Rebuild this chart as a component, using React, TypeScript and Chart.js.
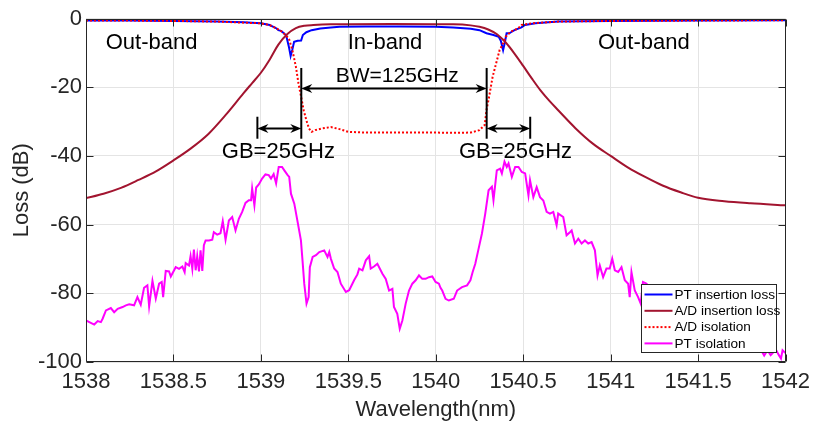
import React, { useEffect, useRef } from "react";
import { Chart, registerables } from "chart.js";

Chart.register(...registerables);

const FONT = "'Liberation Sans', Arial, Helvetica, sans-serif";
const AXIS_COLOR = "#262626";

// ---- axes ----
const xTicks = [1538, 1538.5, 1539, 1539.5, 1540, 1540.5, 1541, 1541.5, 1542];
const yTicks = [-100, -80, -60, -40, -20, 0];
const xTitle = "Wavelength(nm)";
const yTitle = "Loss (dB)";

// ---- series labels / colors ----
const seriesLabels = ["PT insertion loss", "A/D insertion loss", "A/D isolation", "PT isolation"];

// ---- PT insertion loss (blue) ----
const ptInsWl = [
  1538.0, 1538.25, 1538.5, 1538.75, 1538.9, 1539.0, 1539.05, 1539.09, 1539.1, 1539.115,
  1539.13, 1539.145, 1539.16, 1539.17, 1539.18, 1539.19, 1539.21, 1539.23, 1539.24, 1539.26,
  1539.29, 1539.34, 1539.4, 1539.45, 1539.6, 1539.8, 1540.0, 1540.1, 1540.2, 1540.25,
  1540.29, 1540.33, 1540.36, 1540.372, 1540.385, 1540.395, 1540.405, 1540.42, 1540.43, 1540.45,
  1540.49, 1540.51, 1540.57, 1540.7, 1541.0, 1541.5, 1542.0,
];
const ptInsLoss = [
  -0.6, -0.6, -0.7, -0.9, -1.1, -1.4, -1.9, -2.9, -3.4, -3.6,
  -4.2, -5.0, -8.2, -10.9, -9.0, -6.8, -6.5, -6.4, -4.8, -4.0,
  -3.4, -2.9, -2.6, -2.4, -2.3, -2.3, -2.4, -2.6, -3.0, -3.4,
  -4.3, -4.8, -5.3, -6.5, -9.2, -7.0, -4.3, -4.3, -4.0, -3.4,
  -2.6, -1.9, -1.4, -0.9, -0.7, -0.6, -0.5,
];

// ---- A/D insertion loss (dark red) ----
const adInsWl = [
  1538.0, 1538.1, 1538.2, 1538.3, 1538.4, 1538.5, 1538.6, 1538.7, 1538.8, 1538.9,
  1538.95, 1539.0, 1539.05, 1539.1, 1539.15, 1539.2, 1539.25, 1539.3, 1539.4, 1539.75,
  1540.1, 1540.2, 1540.25, 1540.3, 1540.35, 1540.4, 1540.45, 1540.5, 1540.55, 1540.6,
  1540.65, 1540.7, 1540.8, 1540.9, 1541.0, 1541.1, 1541.2, 1541.3, 1541.4, 1541.5,
  1541.65, 1541.8, 1542.0,
];
const adInsLoss = [
  -52.3, -51.0, -49.3, -47.0, -44.5, -41.3, -37.8, -33.6, -28.0, -21.8,
  -18.8, -15.8, -12.0, -7.6, -4.6, -2.8, -2.1, -1.9, -1.7, -1.6,
  -1.7, -2.0, -2.4, -3.2, -4.6, -7.0, -10.2, -13.8, -17.5, -21.0,
  -24.0, -26.7, -32.0, -36.5, -40.0, -43.4, -46.2, -48.7, -50.6, -52.2,
  -53.2, -53.8, -54.4,
];

// ---- A/D isolation (red dotted) ----
const adIsoWl = [
  1538.0, 1538.25, 1538.5, 1538.75, 1539.0, 1539.05, 1539.09, 1539.12, 1539.16, 1539.18,
  1539.2, 1539.215, 1539.23, 1539.245, 1539.26, 1539.275, 1539.29, 1539.31, 1539.35, 1539.4,
  1539.45, 1539.5, 1539.6, 1539.8, 1540.0, 1540.1, 1540.2, 1540.25, 1540.28, 1540.29,
  1540.305, 1540.325, 1540.345, 1540.365, 1540.385, 1540.4, 1540.43, 1540.47, 1540.49, 1540.55,
  1540.7, 1541.0, 1541.5, 1542.0,
];
const adIsoLoss = [
  -0.6, -0.6, -0.7, -0.9, -1.4, -1.9, -2.9, -3.8, -5.8, -9.2,
  -14.0, -18.9, -22.8, -26.7, -29.6, -32.0, -33.0, -32.5, -32.0, -31.6,
  -32.2, -33.0, -33.2, -33.2, -33.2, -33.3, -33.2, -32.5, -31.0, -26.7,
  -22.8, -17.0, -13.1, -9.2, -7.2, -5.3, -3.8, -2.9, -1.9, -1.4,
  -0.9, -0.7, -0.6, -0.5,
];

// ---- PT isolation (magenta) ----
const ptIsoWl = [
  1538.0, 1538.019, 1538.047, 1538.067, 1538.085, 1538.095, 1538.114, 1538.142, 1538.161, 1538.181,
  1538.209, 1538.228, 1538.247, 1538.275, 1538.294, 1538.313, 1538.332, 1538.351, 1538.361, 1538.38,
  1538.399, 1538.418, 1538.433, 1538.441, 1538.456, 1538.475, 1538.485, 1538.513, 1538.532, 1538.551,
  1538.564, 1538.57, 1538.589, 1538.598, 1538.608, 1538.617, 1538.627, 1538.636, 1538.646, 1538.655,
  1538.665, 1538.674, 1538.684, 1538.703, 1538.722, 1538.731, 1538.75, 1538.769, 1538.782, 1538.798,
  1538.817, 1538.836, 1538.855, 1538.874, 1538.893, 1538.912, 1538.931, 1538.944, 1538.95, 1538.963,
  1538.973, 1538.988, 1539.007, 1539.026, 1539.045, 1539.058, 1539.073, 1539.087, 1539.102, 1539.121,
  1539.134, 1539.153, 1539.162, 1539.172, 1539.191, 1539.21, 1539.229, 1539.238, 1539.248, 1539.261,
  1539.273, 1539.28, 1539.296, 1539.315, 1539.334, 1539.362, 1539.381, 1539.391, 1539.4, 1539.419,
  1539.438, 1539.457, 1539.486, 1539.505, 1539.533, 1539.552, 1539.562, 1539.581, 1539.6, 1539.619,
  1539.628, 1539.647, 1539.666, 1539.695, 1539.714, 1539.733, 1539.752, 1539.761, 1539.78, 1539.794,
  1539.809, 1539.828, 1539.847, 1539.866, 1539.885, 1539.904, 1539.923, 1539.942, 1539.961, 1539.98,
  1539.999, 1540.018, 1540.027, 1540.037, 1540.056, 1540.075, 1540.103, 1540.122, 1540.15, 1540.179,
  1540.198, 1540.211, 1540.226, 1540.245, 1540.264, 1540.283, 1540.302, 1540.321, 1540.33, 1540.349,
  1540.368, 1540.378, 1540.393, 1540.406, 1540.416, 1540.435, 1540.454, 1540.473, 1540.492, 1540.511,
  1540.53, 1540.539, 1540.558, 1540.577, 1540.596, 1540.615, 1540.634, 1540.653, 1540.672, 1540.691,
  1540.7, 1540.729, 1540.748, 1540.767, 1540.777, 1540.796, 1540.815, 1540.834, 1540.853, 1540.872,
  1540.891, 1540.91, 1540.925, 1540.938, 1540.957, 1540.976, 1540.995, 1541.009, 1541.024, 1541.043,
  1541.062, 1541.081, 1541.1, 1541.109, 1541.119, 1541.138, 1541.157, 1541.172, 1541.185, 1541.204,
  1541.214, 1541.228, 1541.3, 1541.4, 1541.5, 1541.6, 1541.7, 1541.8, 1541.86, 1541.878,
  1541.897, 1541.915, 1541.945, 1541.962, 1541.974, 1541.983, 1542.0,
];
const ptIsoLoss = [
  -87.9, -88.4, -89.1, -88.1, -88.4, -87.4, -85.0, -84.3, -85.5, -84.5,
  -84.0, -83.5, -83.2, -83.5, -81.1, -83.3, -78.4, -77.7, -83.8, -76.4,
  -81.5, -77.2, -76.7, -81.1, -73.5, -73.6, -75.1, -72.4, -72.9, -72.2,
  -73.8, -71.2, -71.9, -69.2, -72.9, -67.3, -73.3, -69.2, -73.6, -67.5,
  -73.5, -66.0, -64.6, -64.6, -64.4, -62.2, -62.9, -62.5, -59.0, -64.4,
  -58.8, -57.8, -61.7, -58.3, -56.3, -53.7, -52.9, -52.9, -49.5, -54.4,
  -49.2, -48.3, -46.6, -45.4, -45.6, -46.6, -45.3, -48.0, -43.2, -43.2,
  -44.2, -45.6, -46.1, -51.0, -53.9, -59.2, -64.6, -70.4, -77.2, -83.0,
  -81.1, -72.4, -69.4, -68.9, -68.0, -67.5, -69.4, -68.0, -69.9, -72.8,
  -73.8, -77.2, -79.6, -79.1, -76.2, -74.5, -72.8, -73.3, -70.4, -69.2,
  -72.8, -72.2, -71.4, -74.3, -75.8, -79.2, -78.7, -84.0, -86.0, -90.3,
  -87.9, -83.0, -79.2, -77.2, -76.2, -74.8, -75.8, -75.8, -75.3, -75.1,
  -76.7, -77.2, -78.4, -79.2, -81.6, -82.1, -81.6, -79.2, -78.2, -77.7,
  -76.2, -73.8, -71.4, -67.0, -62.6, -56.8, -50.0, -49.0, -52.9, -44.2,
  -43.7, -45.1, -41.7, -43.2, -42.2, -46.1, -43.2, -43.2, -44.7, -45.1,
  -51.5, -47.1, -52.0, -49.1, -52.0, -53.0, -56.3, -56.8, -56.3, -60.2,
  -56.8, -57.8, -63.1, -62.2, -61.7, -65.5, -64.1, -65.5, -64.6, -65.5,
  -65.1, -67.5, -74.8, -71.9, -75.3, -72.8, -72.8, -69.9, -73.3, -73.8,
  -72.4, -76.2, -77.2, -81.1, -73.8, -79.2, -81.1, -83.0, -76.7, -77.2,
  -77.7, -82.5, -80.0, -84.0, -88.0, -90.0, -93.0, -95.0, -96.5, -98.1,
  -96.6, -98.0, -96.4, -98.0, -99.0, -96.6, -97.4,
];

// ---- annotation values (data units) ----
const bwEdges = [1539.231, 1540.291]; // BW=125GHz arrow ends
const gbOuter = [1538.98, 1540.54]; // GB=25GHz outer edges
const bwArrowLoss = -20.35;
const bwBarTop = -14.4;
const barBottom = -35.0;
const gbArrowLoss = -32.0;
const gbBarTop = -28.6;
const bwText = { text: "BW=125GHz", wl: 1539.78, loss: -16.9 };
const gbTexts = [
  { text: "GB=25GHz", wl: 1539.1, loss: -38.8 },
  { text: "GB=25GHz", wl: 1540.456, loss: -38.8 },
];
const bandTexts = [
  { text: "Out-band", wl: 1538.375, loss: -7.2 },
  { text: "In-band", wl: 1539.71, loss: -7.2 },
  { text: "Out-band", wl: 1541.19, loss: -7.2 },
];

function toPoints(xs: number[], ys: number[]) {
  return xs.map((x, i) => ({ x, y: ys[i] }));
}

const overlayPlugin = {
  id: "overlay",
  afterDraw(chart: any) {
    const ctx: CanvasRenderingContext2D = chart.ctx;
    const { left, right, top, bottom } = chart.chartArea;
    const xs = chart.scales.x;
    const ys = chart.scales.y;
    const px = (v: number) => xs.getPixelForValue(v);
    const py = (v: number) => ys.getPixelForValue(v);
    ctx.save();

    // axes box + inward ticks
    ctx.strokeStyle = AXIS_COLOR;
    ctx.lineWidth = 1;
    ctx.beginPath();
    const L = Math.round(left) + 0.5;
    const R = Math.round(right) - 0.5;
    const T = Math.round(top) + 0.5;
    const B = Math.round(bottom) - 0.5;
    ctx.rect(L, T, R - L, B - T);
    const tl = 7;
    xTicks.forEach((v) => {
      const x = Math.round(px(v)) + 0.5;
      ctx.moveTo(x, B);
      ctx.lineTo(x, B - tl);
      ctx.moveTo(x, T);
      ctx.lineTo(x, T + tl);
    });
    yTicks.forEach((v) => {
      const y = Math.round(py(v)) + 0.5;
      ctx.moveTo(L, y);
      ctx.lineTo(L + tl, y);
      ctx.moveTo(R, y);
      ctx.lineTo(R - tl, y);
    });
    ctx.stroke();

    // annotations
    ctx.strokeStyle = "#000";
    ctx.fillStyle = "#000";
    ctx.lineWidth = 2;
    const head = (tx: number, ty: number, dir: number) => {
      const len = 11, w = 4.5, notch = 3.5;
      ctx.beginPath();
      ctx.moveTo(tx, ty);
      ctx.lineTo(tx - dir * len, ty - w);
      ctx.lineTo(tx - dir * (len - notch), ty);
      ctx.lineTo(tx - dir * len, ty + w);
      ctx.closePath();
      ctx.fill();
    };
    const hArrow = (x1: number, x2: number, y: number) => {
      ctx.beginPath();
      ctx.moveTo(x1 + 4, y);
      ctx.lineTo(x2 - 4, y);
      ctx.stroke();
      head(x1, y, -1);
      head(x2, y, 1);
    };
    const vBar = (x: number, y1: number, y2: number) => {
      ctx.beginPath();
      ctx.moveTo(x, y1);
      ctx.lineTo(x, y2);
      ctx.stroke();
    };
    const bx1 = px(bwEdges[0]);
    const bx2 = px(bwEdges[1]);
    const gx1 = px(gbOuter[0]);
    const gx2 = px(gbOuter[1]);
    vBar(bx1, py(bwBarTop), py(barBottom));
    vBar(bx2, py(bwBarTop), py(barBottom));
    vBar(gx1, py(gbBarTop), py(barBottom));
    vBar(gx2, py(gbBarTop), py(barBottom));
    hArrow(bx1, bx2, py(bwArrowLoss));
    hArrow(gx1, bx1, py(gbArrowLoss));
    hArrow(bx2, gx2, py(gbArrowLoss));

    ctx.textAlign = "center";
    ctx.textBaseline = "middle";
    ctx.font = `21px ${FONT}`;
    ctx.fillText(bwText.text, px(bwText.wl), py(bwText.loss));
    ctx.font = `22px ${FONT}`;
    gbTexts.forEach((t) => ctx.fillText(t.text, px(t.wl), py(t.loss)));
    bandTexts.forEach((t) => ctx.fillText(t.text, px(t.wl), py(t.loss)));

    // legend
    const boxW = 135;
    const boxH = 68;
    const lx = Math.round(right) - 10 - boxW + 0.5;
    const ly = Math.round(bottom) - 10 - boxH + 0.5;
    ctx.fillStyle = "#fff";
    ctx.fillRect(lx, ly, boxW, boxH);
    ctx.strokeStyle = AXIS_COLOR;
    ctx.lineWidth = 1;
    ctx.strokeRect(lx, ly, boxW, boxH);
    ctx.font = `13.6px ${FONT}`;
    ctx.textAlign = "left";
    ctx.textBaseline = "middle";
    chart.data.datasets.forEach((ds: any, i: number) => {
      const y = ly + 10 + i * 16.3;
      ctx.beginPath();
      ctx.strokeStyle = ds.borderColor;
      ctx.lineWidth = 2;
      ctx.setLineDash(ds.borderDash || []);
      ctx.moveTo(lx + 3, y);
      ctx.lineTo(lx + 31, y);
      ctx.stroke();
      ctx.setLineDash([]);
      ctx.fillStyle = "#000";
      ctx.fillText(ds.label, lx + 33, y + 0.5);
    });
    ctx.restore();
  },
};

export default function App() {
  const canvasRef = useRef<HTMLCanvasElement | null>(null);

  useEffect(() => {
    const canvas = canvasRef.current;
    if (!canvas) return;
    Chart.defaults.font.family = FONT;
    const chart = new Chart(canvas, {
      type: "line",
      data: {
        datasets: [
          {
            label: seriesLabels[0],
            data: toPoints(ptInsWl, ptInsLoss),
            borderColor: "#0000FF",
            borderWidth: 2,
            pointRadius: 0,
            order: 4,
          },
          {
            label: seriesLabels[1],
            data: toPoints(adInsWl, adInsLoss),
            borderColor: "#A2142F",
            borderWidth: 2,
            pointRadius: 0,
            cubicInterpolationMode: "monotone",
            order: 3,
          },
          {
            label: seriesLabels[2],
            data: toPoints(adIsoWl, adIsoLoss),
            borderColor: "#FF0000",
            borderWidth: 2,
            borderDash: [2, 2],
            pointRadius: 0,
            order: 2,
          },
          {
            label: seriesLabels[3],
            data: toPoints(ptIsoWl, ptIsoLoss),
            borderColor: "#FF00FF",
            borderWidth: 2,
            pointRadius: 0,
            order: 1,
          },
        ],
      },
      options: {
        responsive: false,
        animation: false,
        parsing: false,
        layout: { padding: { left: 0, top: 18.5, right: 29, bottom: 0 } },
        plugins: {
          legend: { display: false },
          tooltip: { enabled: false },
        },
        scales: {
          x: {
            type: "linear",
            min: 1538,
            max: 1542,
            afterBuildTicks: (s: any) => {
              s.ticks = xTicks.map((v) => ({ value: v }));
            },
            afterFit: (s: any) => {
              s.height = 62;
            },
            ticks: {
              color: AXIS_COLOR,
              font: { size: 22, family: FONT },
              padding: 7,
              maxRotation: 0,
              autoSkip: false,
              callback: (v: any) => String(v),
            },
            grid: { color: "#e4e4e4", lineWidth: 1, drawTicks: false },
            border: { display: false },
            title: {
              display: true,
              text: xTitle,
              color: AXIS_COLOR,
              font: { size: 22, family: FONT },
              padding: { top: 0, bottom: 1 },
            },
          },
          y: {
            type: "linear",
            min: -100,
            max: 0,
            afterBuildTicks: (s: any) => {
              s.ticks = yTicks.map((v) => ({ value: v }));
            },
            afterFit: (s: any) => {
              s.width = 86;
            },
            ticks: {
              color: AXIS_COLOR,
              font: { size: 22, family: FONT },
              padding: 4,
              autoSkip: false,
              callback: (v: any) => String(v),
            },
            grid: { color: "#e4e4e4", lineWidth: 1, drawTicks: false },
            border: { display: false },
            title: {
              display: true,
              text: yTitle,
              color: AXIS_COLOR,
              font: { size: 22, family: FONT },
              padding: { top: 9, bottom: 0 },
            },
          },
        },
      },
      plugins: [overlayPlugin],
    } as any);
    return () => chart.destroy();
  }, []);

  return (
    <div style={{ position: "absolute", left: 0, top: 0, width: 817, height: 424, background: "#fff" }}>
      <canvas ref={canvasRef} width={817} height={424} />
    </div>
  );
}
